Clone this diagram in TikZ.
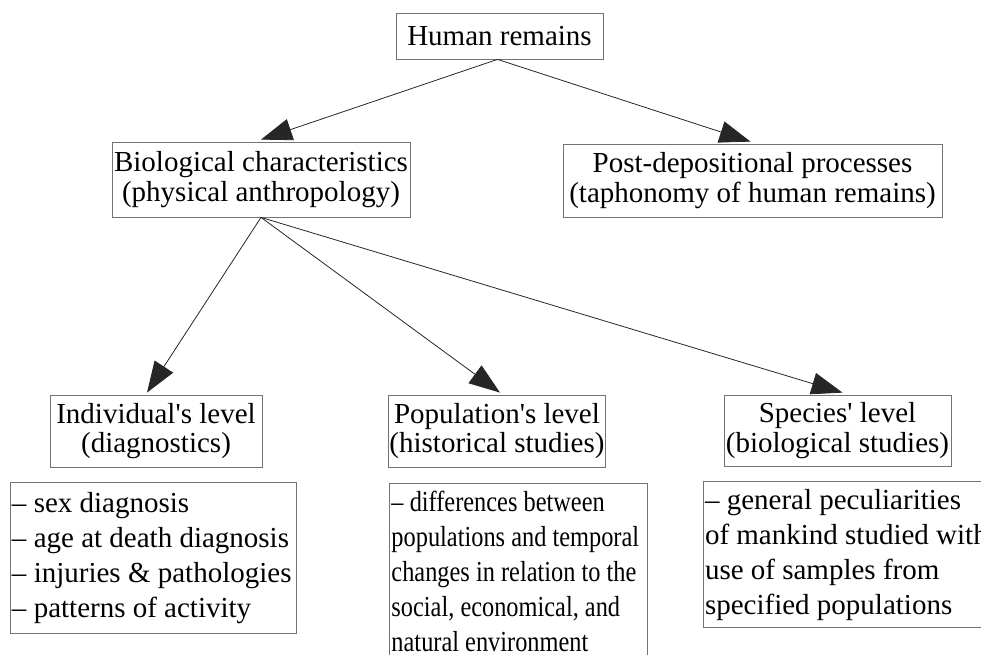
\documentclass[tikz,border=0pt]{standalone}
\usepackage{fontspec}
\setmainfont{Liberation Serif}
\newfontfamily\narrowserif[Ligatures=TeX, FakeStretch=0.84]{Liberation Serif}
\usetikzlibrary{arrows.meta, positioning}

\begin{document}
\begin{tikzpicture}[
            x=1pt, y=-1pt,
            node distance=15pt,
            levelnode/.style={rectangle, draw=black!55, line width=0.8pt, align=center, inner xsep=1pt, inner ysep=2pt, font=\fontsize{29}{29.5}\selectfont},
            listnode/.style={rectangle, draw=black!55, line width=0.8pt, align=flush left, inner xsep=2pt, inner ysep=3pt, font=\fontsize{29}{35}\selectfont},
            arrowline/.style={-{Triangle[length=31pt, width=22pt]}, draw=black!85, line width=0.8pt},
            ]
            \useasboundingbox (0,0) rectangle (981,654);
            \clip (0,0) rectangle (981,654);

            \node[levelnode, minimum width=207pt, minimum height=46pt] (hr)  at (499.5,36) {Human remains};
            \node[levelnode, minimum width=298pt, minimum height=75pt] (bio) at (261,179.5) {Biological characteristics\\(physical anthropology)};
            \node[levelnode, minimum width=379pt, minimum height=73pt] (pdp) at (752.5,180.5) {Post-depositional processes\\(taphonomy of human remains)};

            \node[levelnode, minimum width=212pt, minimum height=72pt] (ind) at (156,431) {Individual\textquotesingle s level\\(diagnostics)};
            \node[levelnode, minimum width=216pt, minimum height=72pt] (pop) at (497,431) {Population\textquotesingle s level\\(historical studies)};
            \node[levelnode, minimum width=227pt, minimum height=71pt] (spc) at (837.5,430.5) {Species\textquotesingle\ level\\(biological studies)};

            \node[listnode, text width=282pt, minimum height=151pt] (indlist) [below=of ind.south west, anchor=north west, xshift=-40pt]
                {-- sex diagnosis\\-- age at death diagnosis\\-- injuries \& pathologies\\-- patterns of activity};
            \node[listnode, text width=254pt, minimum height=176pt, font=\narrowserif\fontsize{29}{35}\selectfont] (poplist) [below=of pop.south west, anchor=north west, xshift=1pt, yshift=-1pt]
                {-- differences between\\populations and temporal\\changes in relation to the\\social, economical, and\\natural environment};
            \node[listnode, text width=292pt, minimum height=146pt] (spclist) [below=of spc.south west, anchor=north west, xshift=-21pt]
                {-- general peculiarities\\of mankind studied with\\use of samples from\\specified populations};

            \draw[arrowline] ([xshift=-2pt]hr.south) -- ([yshift=2pt]bio.north);
            \draw[arrowline] ([xshift=-2pt]hr.south) -- ([xshift=-2pt, yshift=2pt]pdp.north);
            \draw[arrowline] (bio.south) -- ([xshift=-9pt, yshift=2pt]ind.north);
            \draw[arrowline] (bio.south) -- ([xshift=3pt, yshift=2pt]pop.north);
            \draw[arrowline] (bio.south) -- ([xshift=5pt, yshift=2pt]spc.north);
        \end{tikzpicture}
\end{document}
